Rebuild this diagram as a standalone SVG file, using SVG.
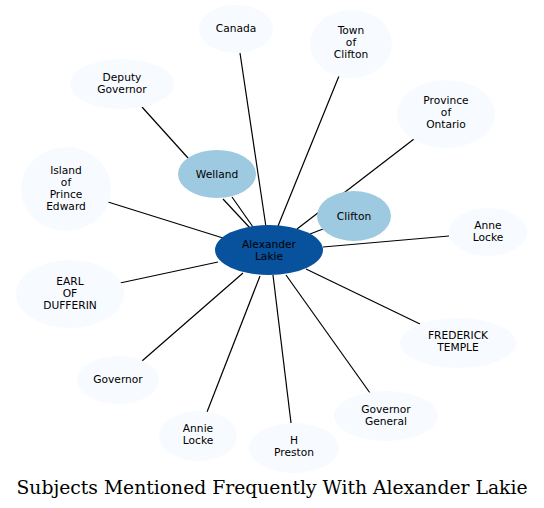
<svg xmlns="http://www.w3.org/2000/svg" width="544" height="508" viewBox="0 0 544 508">
<style>
.e{stroke:#000;stroke-width:1.2;fill:none}
.l{fill:#f7fbff}
.m{fill:#9ecae1}
.d{fill:#08519c}
text{font-family:"DejaVu Sans",sans-serif;font-size:10.67px;text-anchor:middle;fill:#000}
.t{font-family:"DejaVu Serif",serif;font-size:19px}
</style>
<rect width="544" height="508" fill="#fff"/>
<g id="edges">
<line class="e" x1="240" y1="53" x2="266" y2="227"/>
<line class="e" x1="142" y1="107" x2="188" y2="158"/>
<line class="e" x1="223" y1="199" x2="250" y2="228"/>
<line class="e" x1="232" y1="197" x2="253" y2="227"/>
<line class="e" x1="108" y1="202" x2="223" y2="238"/>
<line class="e" x1="339" y1="76" x2="278" y2="226"/>
<line class="e" x1="414" y1="139" x2="297" y2="229"/>
<line class="e" x1="323" y1="229" x2="310" y2="234"/>
<line class="e" x1="449" y1="236" x2="323" y2="247"/>
<line class="e" x1="120" y1="283" x2="218" y2="262"/>
<line class="e" x1="142" y1="361" x2="243" y2="273"/>
<line class="e" x1="207" y1="412" x2="260" y2="276"/>
<line class="e" x1="291" y1="423" x2="273" y2="275"/>
<line class="e" x1="370" y1="393" x2="286" y2="275"/>
<line class="e" x1="420" y1="324" x2="306" y2="269"/>
</g>
<g id="alexander-lakie"><ellipse class="d" cx="269" cy="250" rx="54" ry="25"/><text x="269" y="248">Alexander</text><text x="269" y="260">Lakie</text></g>
<g id="welland"><ellipse class="m" cx="217" cy="174" rx="39" ry="24"/><text x="217" y="178">Welland</text></g>
<g id="clifton"><ellipse class="m" cx="354" cy="216" rx="37" ry="25"/><text x="354" y="220">Clifton</text></g>
<g id="canada"><ellipse class="l" cx="236" cy="29" rx="37" ry="24"/><text x="236" y="32">Canada</text></g>
<g id="deputy-governor"><ellipse class="l" cx="122" cy="84" rx="52" ry="25"/><text x="122" y="81">Deputy</text><text x="122" y="93">Governor</text></g>
<g id="island-of-prince-edward"><ellipse class="l" cx="66" cy="189" rx="45" ry="42"/><text x="66" y="174">Island</text><text x="66" y="186">of</text><text x="66" y="198">Prince</text><text x="66" y="210">Edward</text></g>
<g id="town-of-clifton"><ellipse class="l" cx="351" cy="44" rx="41" ry="34"/><text x="351" y="34">Town</text><text x="351" y="46">of</text><text x="351" y="58">Clifton</text></g>
<g id="province-of-ontario"><ellipse class="l" cx="446" cy="114" rx="49" ry="34"/><text x="446" y="104">Province</text><text x="446" y="116">of</text><text x="446" y="128">Ontario</text></g>
<g id="anne-locke"><ellipse class="l" cx="488" cy="232" rx="39" ry="24"/><text x="488" y="229">Anne</text><text x="488" y="241">Locke</text></g>
<g id="earl-of-dufferin"><ellipse class="l" cx="70" cy="294" rx="54" ry="34"/><text x="70" y="285">EARL</text><text x="70" y="297">OF</text><text x="70" y="309">DUFFERIN</text></g>
<g id="governor"><ellipse class="l" cx="118" cy="380" rx="41" ry="24"/><text x="118" y="383">Governor</text></g>
<g id="annie-locke"><ellipse class="l" cx="198" cy="436" rx="39" ry="25"/><text x="198" y="432">Annie</text><text x="198" y="444">Locke</text></g>
<g id="h-preston"><ellipse class="l" cx="294" cy="448" rx="45" ry="25"/><text x="294" y="444">H</text><text x="294" y="456">Preston</text></g>
<g id="governor-general"><ellipse class="l" cx="386" cy="416" rx="52" ry="25"/><text x="386" y="413">Governor</text><text x="386" y="425">General</text></g>
<g id="frederick-temple"><ellipse class="l" cx="458" cy="343" rx="58" ry="25"/><text x="458" y="339">FREDERICK</text><text x="458" y="351">TEMPLE</text></g>
<text class="t" x="272" y="494" textLength="511" lengthAdjust="spacingAndGlyphs">Subjects Mentioned Frequently With Alexander Lakie</text>
</svg>
